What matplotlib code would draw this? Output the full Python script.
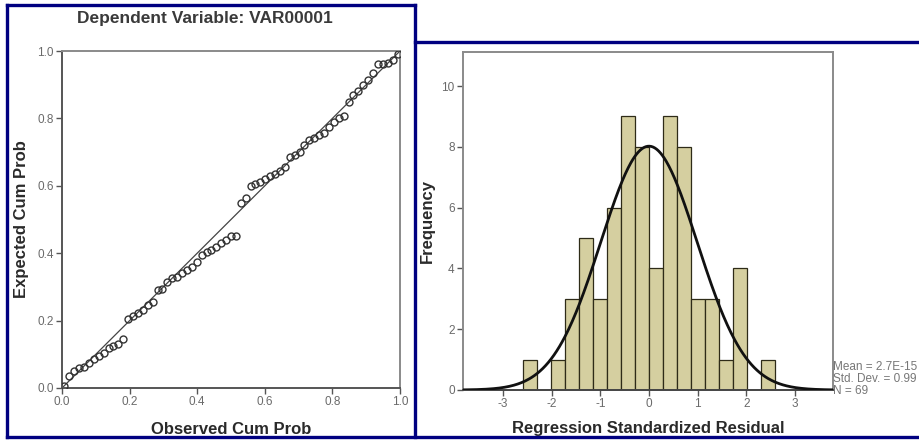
import numpy as np
import matplotlib
matplotlib.use("Agg")
import matplotlib.pyplot as plt
from matplotlib.lines import Line2D

plt.rcParams['font.family'] = ['Liberation Sans', 'DejaVu Sans']
plt.rcParams['axes.unicode_minus'] = False

# --- Normal P-P plot of regression standardized residuals ---
observed_cum_prob = [
    0.007, 0.022, 0.036, 0.051, 0.065, 0.080, 0.094, 0.109, 0.123, 0.138,
    0.152, 0.167, 0.181, 0.196, 0.210, 0.225, 0.239, 0.254, 0.268, 0.283,
    0.297, 0.312, 0.326, 0.341, 0.355, 0.370, 0.384, 0.399, 0.413, 0.428,
    0.442, 0.457, 0.471, 0.486, 0.500, 0.514, 0.529, 0.543, 0.558, 0.572,
    0.587, 0.601, 0.616, 0.630, 0.645, 0.659, 0.674, 0.688, 0.703, 0.717,
    0.732, 0.746, 0.761, 0.775, 0.790, 0.804, 0.819, 0.833, 0.848, 0.862,
    0.877, 0.891, 0.906, 0.920, 0.935, 0.949, 0.964, 0.978, 0.993,
]
expected_cum_prob = [
    0.007, 0.035, 0.050, 0.058, 0.062, 0.075, 0.085, 0.095, 0.105, 0.118,
    0.125, 0.130, 0.145, 0.205, 0.215, 0.222, 0.232, 0.245, 0.255, 0.290,
    0.295, 0.315, 0.325, 0.330, 0.340, 0.350, 0.360, 0.375, 0.395, 0.405,
    0.410, 0.418, 0.430, 0.440, 0.450, 0.452, 0.548, 0.565, 0.600, 0.605,
    0.612, 0.620, 0.628, 0.635, 0.645, 0.655, 0.685, 0.690, 0.700, 0.720,
    0.735, 0.742, 0.750, 0.758, 0.775, 0.790, 0.800, 0.808, 0.850, 0.870,
    0.880, 0.900, 0.915, 0.935, 0.960, 0.962, 0.965, 0.972, 0.990,
]
pp_ticks = [0.0, 0.2, 0.4, 0.6, 0.8, 1.0]
pp_tick_labels = ["0.0", "0.2", "0.4", "0.6", "0.8", "1.0"]

# --- Histogram of regression standardized residuals ---
bin_start = -2.597
bin_width = 0.2885
freq_counts = [1, 0, 1, 3, 5, 3, 6, 9, 8, 4, 9, 8, 3, 3, 1, 4, 0, 1]
resid_mean = 0.0
resid_std = 0.99
n_obs = 69
hist_xticks = [-3, -2, -1, 0, 1, 2, 3]
hist_yticks = [0, 2, 4, 6, 8, 10]
stats_lines = ["Mean = 2.7E-15", "Std. Dev. = 0.99", "N = 69"]

W, H = 919, 441
fig = plt.figure(figsize=(W / 100, H / 100), dpi=100)
fig.patch.set_facecolor("white")


def px(x, y):
    return x / W, 1 - y / H


tick_col = "#6a6a6a"
label_col = "#2a2a2a"
navy = "#000080"

# ---------- left panel: P-P plot ----------
ax1 = fig.add_axes([62 / W, 1 - 388 / H, 338 / W, 337 / H])
ax1.set_xlim(0, 1)
ax1.set_ylim(0, 1)
ax1.plot([0, 1], [0, 1], color="#444444", lw=0.9, zorder=2)
ax1.plot(observed_cum_prob, expected_cum_prob, linestyle="none", marker="o",
         markersize=5.0, markerfacecolor="none", markeredgecolor="#333333",
         markeredgewidth=1.0, zorder=3)
ax1.set_xticks(pp_ticks)
ax1.set_xticklabels(pp_tick_labels)
ax1.set_yticks(pp_ticks)
ax1.set_yticklabels(pp_tick_labels)
for side in ["left", "bottom"]:
    ax1.spines[side].set_color("#555555")
    ax1.spines[side].set_linewidth(1.4)
for side in ["top", "right"]:
    ax1.spines[side].set_color("#8a8a8a")
    ax1.spines[side].set_linewidth(1.4)
ax1.tick_params(direction="out", length=4, width=1.0, color="#555555",
                labelsize=8.5, labelcolor=tick_col, pad=2)
ax1.set_xlabel("Observed Cum Prob", fontsize=12, fontweight="bold",
               color=label_col)
ax1.xaxis.set_label_coords(0.5, -0.1)
ax1.xaxis.label.set_va("top")
ax1.set_ylabel("Expected Cum Prob", fontsize=12, fontweight="bold",
               color=label_col)
ax1.yaxis.set_label_coords(-0.12, 0.5)
ax1.yaxis.label.set_va("center")
fig.text(*px(205, 18), "Dependent Variable: VAR00001", fontsize=12.5,
         fontweight="bold", color="#3a3a3a", ha="center", va="center")

# ---------- right panel: histogram ----------
ax2 = fig.add_axes([463 / W, 1 - 390 / H, 370 / W, 338 / H])
edges = bin_start + bin_width * np.arange(len(freq_counts) + 1)
ax2.bar(edges[:-1], freq_counts, width=np.diff(edges), align="edge",
        color="#d5cfa0", edgecolor="#2e2b18", linewidth=0.9, zorder=2)
xs = np.linspace(-3.82, 3.78, 400)
curve = n_obs * bin_width * np.exp(-0.5 * ((xs - resid_mean) / resid_std) ** 2) \
    / (resid_std * np.sqrt(2 * np.pi))
ax2.plot(xs, curve, color="#111111", lw=2.0, zorder=3)
ax2.set_xlim(-3.82, 3.78)
ax2.set_ylim(0, 11.12)
ax2.set_xticks(hist_xticks)
ax2.set_yticks(hist_yticks)
for side in ["top", "right", "left"]:
    ax2.spines[side].set_color("#8a8a8a")
    ax2.spines[side].set_linewidth(1.4)
ax2.spines["bottom"].set_color("#444444")
ax2.spines["bottom"].set_linewidth(1.4)
ax2.tick_params(direction="out", length=4, width=1.0, color="#555555",
                labelsize=8.5, labelcolor=tick_col, pad=2)
ax2.set_xlabel("Regression Standardized Residual", fontsize=12,
               fontweight="bold", color=label_col)
ax2.xaxis.set_label_coords(0.5, -0.092)
ax2.xaxis.label.set_va("top")
ax2.set_ylabel("Frequency", fontsize=12, fontweight="bold", color=label_col)
ax2.yaxis.set_label_coords(-0.095, 0.5)
ax2.yaxis.label.set_va("center")

for i, line in enumerate(stats_lines):
    fig.text(*px(833, 367 + 12 * i), line, fontsize=8.5, color="#777777",
             ha="left", va="center")

# ---------- navy panel borders ----------
bw = 2.4
for (x0, y0), (x1, y1) in [((7, 5), (415, 5)), ((7, 5), (7, 437)),
                           ((7, 437), (919, 437)), ((415, 5), (415, 437)),
                           ((415, 42), (919, 42))]:
    fig.add_artist(Line2D([x0 / W, x1 / W], [1 - y0 / H, 1 - y1 / H],
                          color=navy, lw=bw, solid_capstyle="projecting"))

fig.savefig("out.png", dpi=100, facecolor="white")
